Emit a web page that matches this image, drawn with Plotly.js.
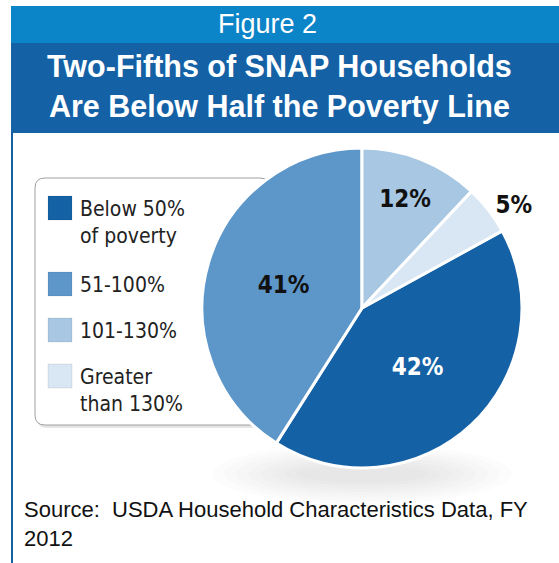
<!DOCTYPE html>
<html>
<head>
<meta charset="utf-8">
<script src="https://cdn.plot.ly/plotly-3.0.1.min.js"></script>
<style>html,body{margin:0;padding:0;background:#fff;}#chart{width:559px;height:563px;}</style>
</head>
<body>
<div id="chart"></div>
<script>
// ---- data ----
var categories = ['Below 50%<br>of poverty', '51-100%', '101-130%', 'Greater<br>than 130%'];
var shares = [42, 41, 12, 5];
var sliceColors = ['#1461a6', '#5d96c9', '#a8c7e3', '#d9e6f3'];
var labelPositions = ['inside', 'inside', 'inside', 'outside'];
var labelColors = ['#ffffff', '#111111', '#111111', '#111111'];
var figureLabel = 'Figure 2';
var titleText = 'Two-Fifths of SNAP Households<br>Are Below Half the Poverty Line';
var sourceText = 'Source:  USDA Household Characteristics Data, FY<br>2012';

// ---- layout helpers (pixel -> paper) ----
var W = 559, H = 563;
function px(x) { return x / W; }
function py(y) { return 1 - y / H; }
function rect(x0, y0, x1, y1, fill, extra) {
  var s = {type: 'rect', xref: 'paper', yref: 'paper', x0: px(x0), x1: px(x1), y0: py(y1), y1: py(y0),
           fillcolor: fill, line: {width: 0}, layer: 'below'};
  for (var k in extra) s[k] = extra[k];
  return s;
}
function roundRectPath(x0, y0, x1, y1, r) {
  var p = function (x, y) { return px(x) + ',' + py(y); };
  return 'M' + p(x0 + r, y0) + ' L' + p(x1 - r, y0) + ' Q' + p(x1, y0) + ' ' + p(x1, y0 + r) +
    ' L' + p(x1, y1 - r) + ' Q' + p(x1, y1) + ' ' + p(x1 - r, y1) +
    ' L' + p(x0 + r, y1) + ' Q' + p(x0, y1) + ' ' + p(x0, y1 - r) +
    ' L' + p(x0, y0 + r) + ' Q' + p(x0, y0) + ' ' + p(x0 + r, y0) + ' Z';
}

var condensed = '"Liberation Sans Narrow", "DejaVu Sans Condensed", "Roboto", sans-serif';
var arial = '"Liberation Sans", Arial, sans-serif';

var shapes = [];
// header bands and left rule
shapes.push(rect(11, 6, 559, 43, '#0b84c8'));
shapes.push(rect(11, 43, 559, 133, '#1461a6'));
shapes.push(rect(11, 133, 13, 563, '#1461a6'));
// pie shadow (soft, layered)
for (var s = 0; s < 8; s++) {
  var dx = 150 - s * 12, dy = 30 - s * 3;
  shapes.push({type: 'circle', xref: 'paper', yref: 'paper',
               x0: px(362 - dx), x1: px(362 + dx), y0: py(474 + dy), y1: py(474 - dy),
               fillcolor: 'rgba(0,0,0,0.012)', line: {width: 0}, layer: 'below'});
}
// legend box shadow and box
shapes.push({type: 'path', xref: 'paper', yref: 'paper', path: roundRectPath(37, 181, 272, 428, 10),
             fillcolor: 'rgba(0,0,0,0.10)', line: {width: 0}, layer: 'below'});
shapes.push({type: 'path', xref: 'paper', yref: 'paper', path: roundRectPath(35, 178, 270, 425, 10),
             fillcolor: '#ffffff', line: {color: '#a0a0a0', width: 1}, layer: 'below'});

// legend keys
var keyTops = [196, 272, 318, 364];
var keySize = 24;
var annotations = [];
categories.forEach(function (c, i) {
  var top = keyTops[i];
  shapes.push(rect(48, top, 48 + keySize, top + keySize, sliceColors[i], {line: {color: 'rgba(0,0,0,0.08)', width: 1}, layer: 'above'}));
  annotations.push({xref: 'paper', yref: 'paper', x: px(78), y: py(top - 1), xanchor: 'left', yanchor: 'top',
                    text: c, showarrow: false, align: 'left',
                    font: {family: condensed, size: 21, color: '#222222'}});
});

annotations.push({xref: 'paper', yref: 'paper', x: px(267), y: py(24), xanchor: 'center', yanchor: 'middle',
                  text: figureLabel, showarrow: false, font: {family: arial, size: 27, color: '#ffffff'}});
annotations.push({xref: 'paper', yref: 'paper', x: px(279), y: py(86), xanchor: 'center', yanchor: 'middle',
                  text: '<b>' + titleText.replace('<br>', '</b><br><b>') + '</b>', showarrow: false,
                  font: {family: arial, size: 30.5, color: '#ffffff'}});
annotations.push({xref: 'paper', yref: 'paper', x: px(22), y: py(524), xanchor: 'left', yanchor: 'middle',
                  text: sourceText, showarrow: false, align: 'left',
                  font: {family: arial, size: 22, color: '#111111'}});

var trace = {
  type: 'pie',
  labels: categories,
  values: shares,
  sort: false,
  direction: 'clockwise',
  rotation: (shares[2] + shares[3]) * 3.6,
  marker: {colors: sliceColors, line: {color: '#ffffff', width: 3}},
  texttemplate: '<b>%{value}%</b>',
  textposition: labelPositions,
  insidetextorientation: 'horizontal',
  insidetextfont: {family: condensed, size: 24, color: labelColors},
  outsidetextfont: {family: condensed, size: 24, color: '#111111'},
  hoverinfo: 'label+percent',
  domain: {x: [px(202), px(522)], y: [py(468), py(148)]},
  showlegend: false
};

var layout = {
  width: W, height: H,
  margin: {l: 0, r: 0, t: 0, b: 0},
  paper_bgcolor: '#ffffff',
  plot_bgcolor: '#ffffff',
  showlegend: false,
  shapes: shapes,
  annotations: annotations
};

Plotly.newPlot('chart', [trace], layout, {displayModeBar: false, staticPlot: true});
</script>
</body>
</html>
